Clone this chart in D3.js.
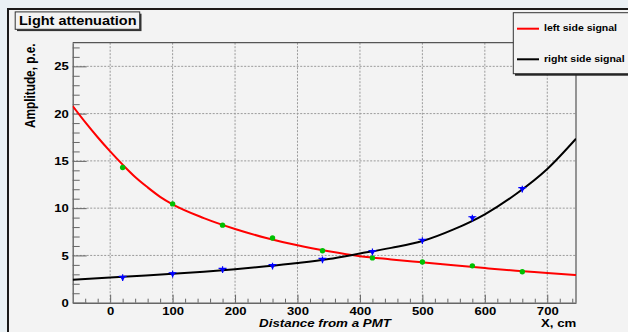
<!DOCTYPE html>
<html>
<head>
<meta charset="utf-8">
<script src="https://cdn.jsdelivr.net/npm/d3@7"></script>
<style>
  html, body { margin: 0; padding: 0; background: #eaf1f5; }
  svg { display: block; }
  text { font-family: "Liberation Sans", Arial, Helvetica, sans-serif; font-weight: bold; fill: #000; }
</style>
</head>
<body>
<svg id="chart" width="628" height="332"></svg>
<script>
// Measurement positions along the bar (cm from the PMT)
const positions = [20, 100, 180, 260, 340, 420, 500, 580, 660];
// Mean amplitudes (photo-electrons) seen at each end
const leftSignal  = [14.3, 10.45, 8.2, 6.85, 5.5, 4.74, 4.3, 3.9, 3.27];
const rightSignal = [2.6, 2.98, 3.45, 3.83, 4.49, 5.32, 6.52, 8.9, 11.98];

// Fitted attenuation curves, sampled along the axis
const leftFitX  = [-60, -40, -20, 0, 20, 40, 60, 80, 100, 150, 200, 250, 300, 350, 400, 450, 500, 550, 600, 650, 700, 746];
const leftFitY  = [20.8, 19.1, 17.5, 16.0, 14.6, 13.3, 12.2, 11.2, 10.4, 8.95, 7.8, 6.85, 6.07, 5.44, 4.92, 4.58, 4.27, 3.96, 3.66, 3.38, 3.15, 2.93];
const rightFitX = [-60, 0, 50, 100, 150, 200, 250, 300, 350, 400, 450, 500, 550, 600, 650, 700, 746];
const rightFitY = [2.42, 2.66, 2.85, 3.05, 3.28, 3.55, 3.85, 4.2, 4.62, 5.2, 5.8, 6.52, 7.75, 9.35, 11.5, 14.15, 17.35];

// Axis ticks and labels
const xTicks = [0, 100, 200, 300, 400, 500, 600, 700];
const yTicks = [0, 5, 10, 15, 20, 25];
const legendNames = ["left side signal", "right side signal"];
const seriesColors = ["#ff0000", "#000000"];
const chartTitle = "Light attenuation";
const xTitle = "Distance from a PMT";
const xUnit = "X, cm";
const yTitle = "Amplitude, p.e.";

const svg = d3.select("#chart");
const STRETCH = 1.17; // horizontal widening of the glyphs

// Frame geometry
const fx0 = 72.7, fx1 = 576, fy0 = 42.7, fy1 = 302.7;
const x = d3.scaleLinear().domain([-60, 746]).range([fx0, fx1]);
const y = d3.scaleLinear().domain([0, 27.5]).range([fy1, fy0]);

// Canvas pad
svg.append("rect").attr("x", 8).attr("y", 9).attr("width", 640).attr("height", 340)
  .attr("fill", "#f3f3f3").attr("stroke", "#1a1a1a").attr("stroke-width", 2);

// Grid
const grid = svg.append("g").attr("stroke", "#9a9a9a").attr("stroke-width", 1).attr("stroke-dasharray", "2,1.5");
grid.selectAll("line.v").data(xTicks).join("line").attr("class", "v")
  .attr("x1", d => x(d)).attr("x2", d => x(d)).attr("y1", fy0).attr("y2", fy1);
grid.selectAll("line.h").data(yTicks.filter(d => d > 0)).join("line").attr("class", "h")
  .attr("x1", fx0).attr("x2", fx1).attr("y1", d => y(d)).attr("y2", d => y(d));

// Frame top and right borders
svg.append("path").attr("d", `M${fx0},${fy0}H${fx1}V${fy1}`).attr("fill", "none")
  .attr("stroke", "#555").attr("stroke-width", 1.2);

// X axis: major ticks with labels, then minor ticks, all pointing inwards
const xAxis = svg.append("g").attr("transform", `translate(0,${fy1})`)
  .call(d3.axisBottom(x).tickValues(xTicks).tickSizeInner(-8).tickSizeOuter(0).tickPadding(4.2).tickFormat(d3.format("d")));
svg.append("g").attr("transform", `translate(0,${fy1})`)
  .call(d3.axisBottom(x).tickValues(d3.range(-40, 746, 20).filter(v => v % 100 !== 0)).tickSizeInner(-4).tickSizeOuter(0).tickFormat(""))
  .call(g => g.select(".domain").remove());

// Y axis
const yAxis = svg.append("g").attr("transform", `translate(${fx0},0)`)
  .call(d3.axisLeft(y).tickValues(yTicks).tickSizeInner(-14).tickSizeOuter(0).tickPadding(3.9).tickFormat(d3.format("d")));
svg.append("g").attr("transform", `translate(${fx0},0)`)
  .call(d3.axisLeft(y).tickValues(d3.range(1, 28, 1).filter(v => v % 5 !== 0)).tickSizeInner(-7).tickSizeOuter(0).tickFormat(""))
  .call(g => g.select(".domain").remove());

svg.selectAll(".tick line").attr("stroke", "#666").attr("stroke-width", 1);
svg.selectAll(".domain").attr("stroke", "#666").attr("stroke-width", 1.4);
[xAxis, yAxis].forEach(a => a.selectAll("text")
  .attr("font-size", 11.2).attr("font-family", "Liberation Sans, Arial, sans-serif")
  .attr("font-weight", "bold").attr("fill", "#000"));
xAxis.selectAll("text").attr("transform", `scale(${STRETCH},1)`);
yAxis.selectAll("text").attr("x", -3.9 / STRETCH).attr("transform", `scale(${STRETCH},1)`);

// Helper for stretched text
function label(parent, str, tx, ty, size, anchor, extra) {
  const g = parent.append("g").attr("transform", `translate(${tx},${ty}) scale(${STRETCH},1)` + (extra || ""));
  return g.append("text").attr("font-size", size).attr("text-anchor", anchor).text(str);
}

// Axis titles
label(svg, xTitle, 325, 327.3, 11.4, "middle").attr("font-style", "italic");
label(svg, xUnit, 576.3, 327.3, 11.3, "end");
label(svg, yTitle, 34.5, 43.5, 11.8, "end", " rotate(-90)");

// Fit curves
const plot = svg.append("g");
plot.append("clipPath").attr("id", "frameClip").append("rect")
  .attr("x", fx0).attr("y", fy0).attr("width", fx1 - fx0).attr("height", fy1 - fy0);
const line = d3.line().x(d => x(d[0])).y(d => y(d[1])).curve(d3.curveMonotoneX);
const fits = [d3.zip(leftFitX, leftFitY), d3.zip(rightFitX, rightFitY)];
plot.selectAll("path.fit").data(fits).join("path").attr("class", "fit")
  .attr("clip-path", "url(#frameClip)")
  .attr("d", line).attr("fill", "none")
  .attr("stroke", (d, i) => seriesColors[i]).attr("stroke-width", 2);

// Left-side points: green dots
plot.selectAll("circle.left").data(d3.zip(positions, leftSignal)).join("circle").attr("class", "left")
  .attr("cx", d => x(d[0])).attr("cy", d => y(d[1])).attr("r", 2.7).attr("fill", "#00c000");

// Right-side points: blue down-triangles with error bars
const rg = plot.selectAll("g.right").data(d3.zip(positions, rightSignal)).join("g").attr("class", "right")
  .attr("transform", d => `translate(${x(d[0])},${y(d[1])})`);
rg.append("path").attr("d", "M-3,-2L3,-2L0,2.8Z").attr("fill", "#0000ff");
rg.append("path").attr("d", "M-4,-1.8H4M0,-3.8V3").attr("stroke", "#0000ff").attr("stroke-width", 1.2);

// Title box with shadow
svg.append("rect").attr("x", 17).attr("y", 13.7).attr("width", 124.5).attr("height", 17.4).attr("fill", "#333");
svg.append("rect").attr("x", 15.2).attr("y", 11.9).attr("width", 124.5).attr("height", 17.4)
  .attr("fill", "#f3f3f3").attr("stroke", "#333").attr("stroke-width", 1);
label(svg, chartTitle, 19, 24.6, 12.4, "start");

// Legend box with shadow
svg.append("rect").attr("x", 515).attr("y", 14.7).attr("width", 140).attr("height", 61).attr("fill", "#222");
svg.append("rect").attr("x", 513.3).attr("y", 12.7).attr("width", 140).attr("height", 61)
  .attr("fill", "#f3f3f3").attr("stroke", "#333").attr("stroke-width", 1);
const legendY = [28.7, 59.3];
legendNames.forEach((name, i) => {
  svg.append("line").attr("x1", 517).attr("x2", 539).attr("y1", legendY[i]).attr("y2", legendY[i])
    .attr("stroke", seriesColors[i]).attr("stroke-width", 2);
  label(svg, name, 544, legendY[i] + 2.6, 9, "start");
});
</script>
</body>
</html>
